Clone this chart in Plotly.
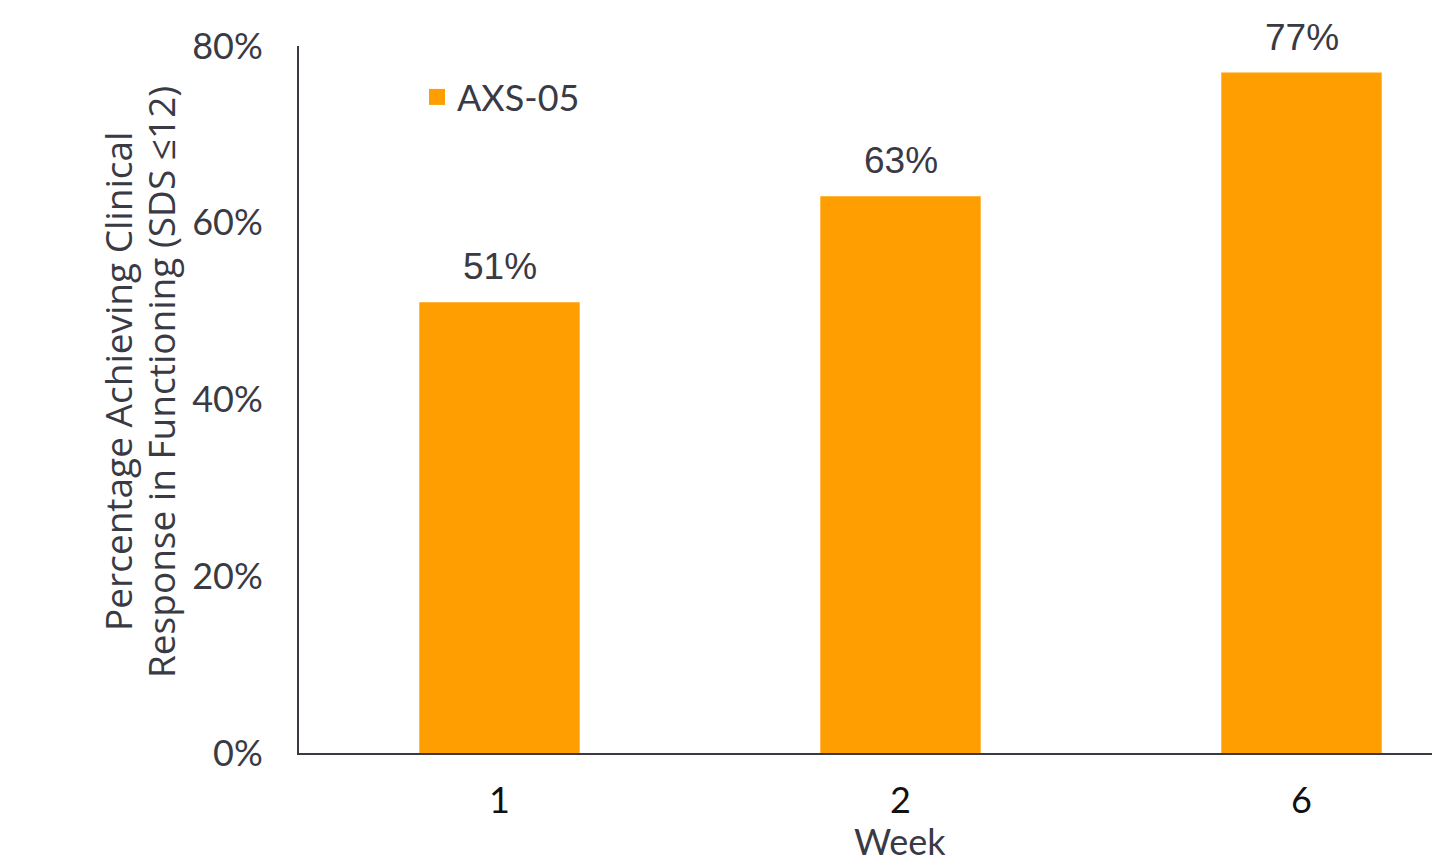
import plotly.graph_objects as go

weeks = ["1", "2", "6"]
response_pct = [51, 63, 77]
series_name = "AXS-05"
y_ticks = [0, 20, 40, 60, 80]
y_tick_labels = ["0%", "20%", "40%", "60%", "80%"]
y_title_lines = ["Percentage Achieving Clinical", "Response in Functioning (SDS ≤12)"]
x_title = "Week"

ORANGE = "#FF9E00"
INK = "#3A3A45"
AXIS_FONT = "Lato, 'Open Sans', sans-serif"
TITLE_FONT = "'Open Sans', Lato, sans-serif"
LABEL_FONT = "'Liberation Sans', Arial, sans-serif"

W, H = 1432, 863
L, R, T, B = 299, 0, 46, 110
plot_w = W - L - R
plot_h = H - T - B
cat_px = 401  # pixel spacing between category centres


def px_x(px):
    return (px - L) / plot_w


def px_y(py):
    return (H - B - py) / plot_h


fig = go.Figure()
fig.add_trace(go.Bar(
    x=weeks,
    y=response_pct,
    name=series_name,
    width=0.4,
    marker=dict(color=ORANGE, line=dict(width=0)),
    showlegend=False,
))
# legend entry with a larger square swatch
fig.add_trace(go.Scatter(
    x=[None], y=[None],
    mode="markers",
    name=series_name,
    marker=dict(symbol="square", size=16, color=ORANGE),
    showlegend=True,
))

# value labels above each bar (category axis: x is the category index)
annotations = [
    dict(
        x=i, y=v, xref="x", yref="y",
        text=f"{v}%", showarrow=False,
        xanchor="center", yanchor="bottom", yshift=13,
        font=dict(family=LABEL_FONT, size=37, color=INK),
    )
    for i, v in enumerate(response_pct)
]
for line, cx in zip(y_title_lines, (117, 160)):
    annotations.append(dict(
        text=line, xref="paper", yref="paper",
        x=px_x(cx), y=px_y(382),
        xanchor="center", yanchor="middle",
        textangle=-90, showarrow=False,
        font=dict(family=TITLE_FONT, size=37, color=INK),
    ))
annotations.append(dict(
    text=x_title, xref="paper", yref="paper",
    x=px_x(900), y=px_y(841),
    xanchor="center", yanchor="middle",
    showarrow=False,
    font=dict(family=AXIS_FONT, size=36, color=INK),
))

fig.update_layout(
    width=W, height=H,
    margin=dict(l=L, r=R, t=T, b=B, pad=0),
    paper_bgcolor="white",
    plot_bgcolor="white",
    showlegend=True,
    legend=dict(
        x=px_x(417), y=px_y(67),
        xanchor="left", yanchor="top",
        bgcolor="rgba(0,0,0,0)",
        font=dict(family=AXIS_FONT, size=36, color=INK),
        itemsizing="trace",
    ),
    xaxis=dict(
        type="category",
        range=[-0.5, plot_w / cat_px - 0.5],
        showline=True, linecolor=INK, linewidth=2,
        ticks="", showgrid=False, zeroline=False,
        tickfont=dict(family=AXIS_FONT, size=36, color="#111111"),
        ticklabelstandoff=15,
    ),
    yaxis=dict(
        range=[0, 80],
        tickvals=y_ticks, ticktext=y_tick_labels,
        showline=True, linecolor=INK, linewidth=2,
        ticks="", showgrid=False, zeroline=False,
        tickfont=dict(family=AXIS_FONT, size=36, color=INK),
        ticklabelstandoff=27,
    ),
    annotations=annotations,
)

fig.write_html("out.html")
